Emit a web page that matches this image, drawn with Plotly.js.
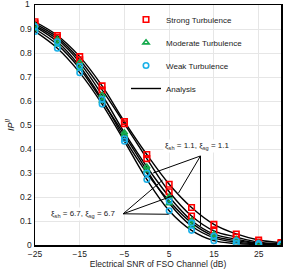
<!DOCTYPE html>
<html><head><meta charset="utf-8">
<script src="https://cdn.plot.ly/plotly-3.0.1.min.js"></script>
<style>html,body{margin:0;padding:0;background:#fff}</style>
</head><body><div id="chart" style="width:291px;height:269px"></div>
<script>
const snr = [-25,-20,-15,-10,-5,0,5,10,15,20,25,30];
const xTicks = [-25,-15,-5,5,15,25];
const yTicks = [0,0.1,0.2,0.3,0.4,0.5,0.6,0.7,0.8,0.9];
const yTickText = ['0','0.1','0.2','0.3','0.4','0.5','0.6','0.7','0.8','0.9'];
const yTopLabel = '1';
const strongA   = [0.930,0.873,0.785,0.663,0.514,0.377,0.253,0.156,0.086,0.046,0.021,0.010];
const strongB   = [0.922,0.865,0.772,0.646,0.505,0.360,0.222,0.121,0.059,0.033,0.012,0.006];
const moderateA = [0.915,0.857,0.760,0.625,0.468,0.326,0.201,0.102,0.045,0.024,0.008,0.004];
const moderateB = [0.900,0.835,0.735,0.600,0.458,0.311,0.174,0.079,0.030,0.012,0.004,0.002];
const weakA     = [0.910,0.847,0.745,0.607,0.443,0.300,0.183,0.092,0.037,0.018,0.006,0.003];
const weakB     = [0.890,0.820,0.718,0.587,0.432,0.273,0.143,0.061,0.018,0.006,0.002,0.001];
const seriesNames = ['Strong Turbulence','Moderate Turbulence','Weak Turbulence','Analysis'];

const curves = [strongA,strongB,moderateA,moderateB,weakA,weakB];
const traces = [];
curves.forEach((c,i)=>{
  traces.push({x:snr,y:c,mode:'lines',type:'scatter',name:seriesNames[3],legendgroup:'an',
    showlegend:i===0,legendrank:4,line:{color:'#000',width:1.4,shape:'spline',smoothing:1},hoverinfo:'skip'});
});
const mk = [
  {name:seriesNames[0],a:strongA,b:strongB,sym:'square-open',col:'#ff0000',size:5.5,rank:1},
  {name:seriesNames[1],a:moderateA,b:moderateB,sym:'triangle-up-open',col:'#12a84a',size:5.5,rank:2},
  {name:seriesNames[2],a:weakA,b:weakB,sym:'circle-open',col:'#1ab0e8',size:5.5,rank:3}
];
mk.forEach(m=>{
  traces.push({x:snr.concat(snr),y:m.a.concat(m.b),mode:'markers',type:'scatter',name:m.name,
    legendgroup:m.name,legendrank:m.rank,
    marker:{symbol:m.sym,color:m.col,size:m.size,line:{width:1.6,color:m.col}}});
});

const ln = (x0,y0,x1,y1)=>({type:'line',xref:'x',yref:'y',x0,y0,x1,y1,line:{color:'#000',width:1}});
const shapes = [
  ln(12.0,0.371,1.4,0.30), ln(12.0,0.371,7.1,0.217), ln(12.0,0.371,12.0,0.079),
  ln(-5.3,0.13,3.5,0.27), ln(-5.3,0.13,5.7,0.204), ln(-5.3,0.13,4.9,0.128)
];
const fnt = {family:'Liberation Sans, Arial, sans-serif',size:8.5,color:'#222'};
const afnt = {family:'Liberation Sans, Arial, sans-serif',size:8,color:'#222'};
const layout = {
  width:291,height:269,margin:{l:35,r:10,t:5,b:24},
  paper_bgcolor:'#fff',plot_bgcolor:'#fff',font:fnt,
  xaxis:{range:[-25,30],tickvals:xTicks,showgrid:true,gridcolor:'#e6e6e6',gridwidth:1,zeroline:false,
    showline:true,linecolor:'#000',linewidth:1.5,mirror:true,ticks:'',tickfont:fnt,
    title:{text:'Electrical SNR of FSO Channel (dB)',font:fnt,standoff:2}},
  yaxis:{range:[0,1],tickvals:yTicks,ticktext:yTickText,showgrid:true,gridcolor:'#e6e6e6',gridwidth:1,zeroline:false,
    showline:true,linecolor:'#000',linewidth:1.5,mirror:true,ticks:'',tickfont:fnt,
    title:{text:'<i>IP<sup>II</sup></i>',font:{family:'Liberation Sans, Arial, sans-serif',size:9,color:'#222'},standoff:4}},
  legend:{x:0.37,y:1.0,xanchor:'left',yanchor:'top',bgcolor:'rgba(255,255,255,0)',
    font:afnt,traceorder:'grouped',tracegroupgap:4,itemwidth:30},
  shapes:shapes,
  annotations:[
    {x:0,y:1,xref:'paper',yref:'paper',xanchor:'right',yanchor:'middle',xshift:-3,yshift:1,text:yTopLabel,showarrow:false,font:fnt},
    {x:11.3,y:0.4125,xref:'x',yref:'y',xanchor:'center',yanchor:'middle',text:'ξ<sub>sh</sub> = 1.1, ξ<sub>sg</sub> = 1.1',showarrow:false,
     bgcolor:'#fff',font:afnt},
    {x:-14.3,y:0.129,xref:'x',yref:'y',xanchor:'center',yanchor:'middle',text:'ξ<sub>sh</sub> = 6.7, ξ<sub>sg</sub> = 6.7',showarrow:false,
     bgcolor:'#fff',font:afnt}
  ]
};
Plotly.newPlot('chart',traces,layout,{displayModeBar:false,staticPlot:true});
</script></body></html>
